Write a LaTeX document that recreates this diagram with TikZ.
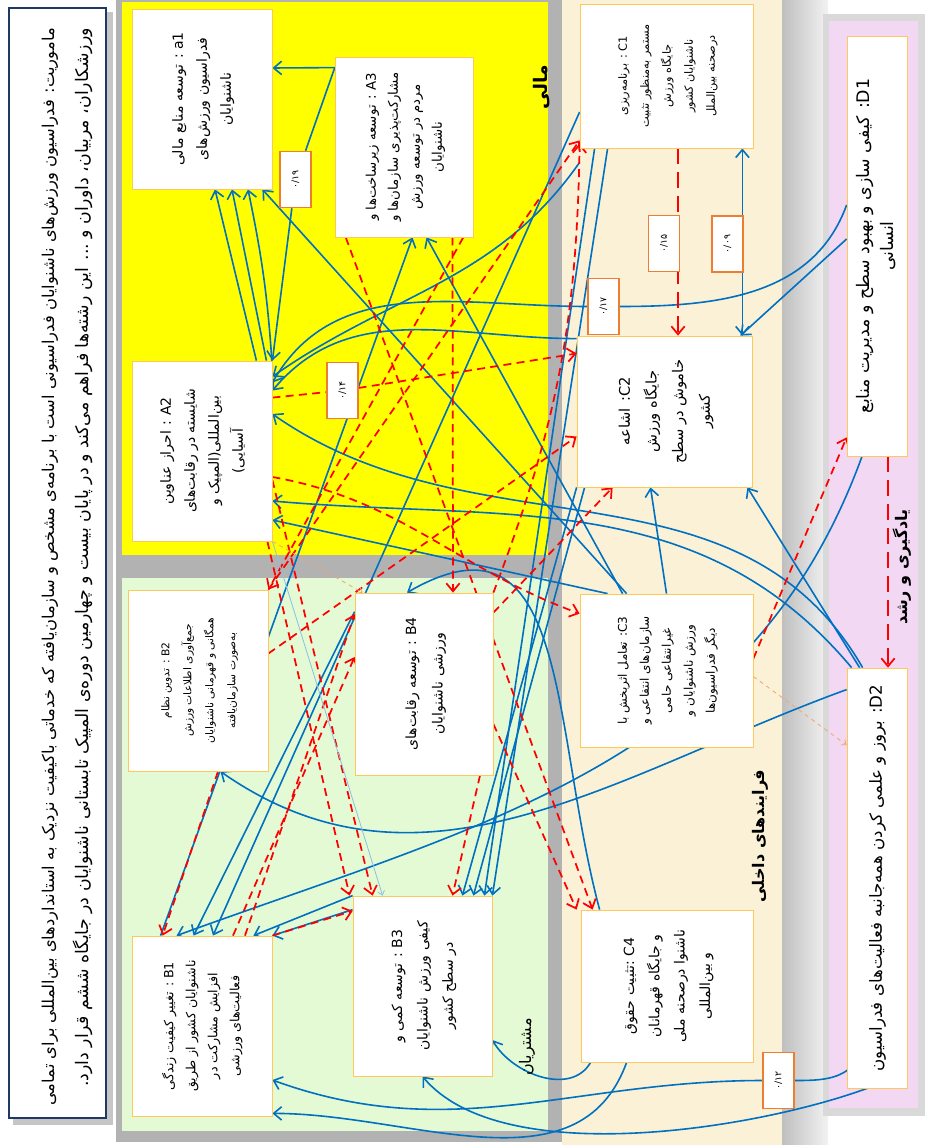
\documentclass[tikz,border=0pt]{standalone}
\usepackage{graphicx}
\usepackage{fontspec}
\usepackage{xcolor}
\usepackage{tikz}
\usetikzlibrary{arrows.meta,calc}
\TeXXeTstate=1
\newfontfamily\fa[Script=Arabic]{DejaVu Sans}
\newcommand{\rtxt}[1]{\beginR#1\endR}
\newcommand{\ltxt}[1]{\beginL#1\endL}
\newcommand{\zw}{^^^^200c}
\newcommand{\vt}[1]{\rotatebox{90}{\begin{tabular}{@{}c@{}}#1\end{tabular}}}

\definecolor{finyellow}{RGB}{255,255,0}
\definecolor{custgreen}{RGB}{228,250,212}
\definecolor{procbeige}{RGB}{250,241,214}
\definecolor{learnpink}{RGB}{243,216,243}
\definecolor{linkblue}{RGB}{0,112,192}
\definecolor{linkred}{RGB}{255,0,0}
\definecolor{goalrim}{RGB}{255,200,90}
\definecolor{weightrim}{RGB}{237,125,49}
\definecolor{missionrim}{RGB}{31,56,100}

\pgfdeclarelayer{back}
\pgfdeclarelayer{links}
\pgfsetlayers{back,links,main}

\tikzset{
  goal/.style={draw=goalrim, line width=0.6pt, fill=white, inner sep=2pt,
    minimum width=105pt, minimum height=135pt, font=\fa\fontsize{10.5}{18}\selectfont},
  weight/.style={draw=weightrim, line width=1.1pt, fill=white, inner sep=0pt,
    minimum width=23pt, minimum height=42pt, font=\fa\fontsize{7}{8}\selectfont},
  solidlink/.style={draw=linkblue, line width=1.2pt, -{Straight Barb[length=6pt,width=10pt]}},
  dashlink/.style={draw=linkred, line width=1.3pt, dash pattern=on 6pt off 4pt,
    -{Straight Barb[length=6pt,width=10pt]}},
  faintlink/.style={line width=0.6pt, -{Straight Barb[length=3pt,width=5pt]}},
  bandlabel/.style={rotate=90, inner sep=0pt, font=\fa\bfseries\fontsize{12}{14}\selectfont},
}

\begin{document}
\begin{tikzpicture}[x=0.75pt,y=-0.75pt]
\useasboundingbox (0,0) rectangle (929,1145);

\begin{pgfonlayer}{back}
  \fill[white] (0,0) rectangle (929,1145);
  \fill[gray!45] (13,12) rectangle (113,1125);
  \fill[gray!60] (116,0) rectangle (562,1142);
  \fill[finyellow] (122,2) rectangle (548,555);
  \fill[custgreen] (122,578) rectangle (548,1131);
  \shade[left color=gray!50, right color=gray!10] (782,0) rectangle (828,1145);
  \fill[procbeige] (562,0) rectangle (782,1145);
  \fill[gray!30] (823,14) rectangle (925,1116);
  \fill[learnpink] (829,21) rectangle (918,1108);
  \draw[missionrim, line width=1.4pt, fill=white] (9,8) rectangle (106,1118);
\end{pgfonlayer}

% mission
\node[inner sep=0pt, font=\fa\fontsize{10}{26}\selectfont]
  (mission) at (64.5,567) {\rotatebox{90}{\begin{tabular}{@{}r@{}}
  \resizebox{808pt}{!}{\rtxt{ماموریت: فدراسیون ورزش\zw های ناشنوایان فدراسیونی است با برنامه\zw ی مشخص و سازمان\zw یافته که خدماتی باکیفیت نزدیک به استانداردهای بین\zw المللی برای تمامی}}\\
  \resizebox{794pt}{!}{\rtxt{ورزشکاران، مربیان، داوران و ... این رشته\zw ها فراهم می\zw کند و در پایان بیست و چهارمین دوره\zw ی المپیک تابستانی ناشنوایان در جایگاه ششم قرار دارد.}}
  \end{tabular}}};

% band labels
\node[bandlabel, font=\fa\bfseries\fontsize{14}{16}\selectfont] (finlabel) at (542,87) {\rtxt{مالی}};
\node[bandlabel, font=\fa\fontsize{12}{14}\selectfont] (custlabel) at (527,1047) {\rtxt{مشتریان}};
\node[bandlabel] (proclabel) at (760,836) {\rtxt{فرایندهای داخلی}};
\node[bandlabel] (learnlabel) at (902,567) {\rtxt{یادگیری و رشد}};

% objectives
\node[goal] (a1) at (202,99) {\vt{\rtxt{\ltxt{a1} : توسعه منابع مالی}\\ \rtxt{فدراسیون ورزش\zw های}\\ \rtxt{ناشنوایان}}};
\node[goal, minimum width=104pt, font=\fa\fontsize{10}{16.5}\selectfont] (A3) at (404.5,147) {\vt{\rtxt{\ltxt{A3} : توسعه زیرساخت\zw ها و}\\ \rtxt{مشارکت\zw پذیری سازمان\zw ها و}\\ \rtxt{مردم در توسعه ورزش}\\ \rtxt{ناشنوایان}}};
\node[goal] (A2) at (202,451) {\vt{\rtxt{\ltxt{A2} : احراز عناوین}\\ \rtxt{شایسته در رقابت\zw های}\\ \rtxt{بین\zw المللی(المپیک و}\\ \rtxt{آسیایی)}}};
\node[goal, minimum width=129.75pt, minimum height=108pt, font=\fa\fontsize{8.5}{16.5}\selectfont] (C1) at (666.5,76) {\vt{\rtxt{\ltxt{C1} : برنامه\zw ریزی}\\ \rtxt{مستمر به\zw منظور تثبیت}\\ \rtxt{جایگاه ورزش}\\ \rtxt{ناشنوایان کشور}\\ \rtxt{درصحنه بین\zw الملل}}};
\node[goal, minimum width=131.25pt, minimum height=113.25pt, font=\fa\fontsize{11}{20}\selectfont] (C2) at (664.5,411.5) {\vt{\rtxt{\ltxt{C2}:  اشاعه}\\ \rtxt{جایگاه ورزش}\\ \rtxt{خاموش در سطح}\\ \rtxt{کشور}}};
\node[goal, minimum width=45pt, minimum height=315pt, font=\fa\fontsize{13}{18}\selectfont] (D1) at (877,246) {\vt{\rtxt{\ltxt{D1}: کیفی سازی و بهبود سطح و مدیریت منابع}\\ \rtxt{انسانی}}};
\node[goal, minimum height=135.75pt, font=\fa\fontsize{8}{16.5}\selectfont] (B2) at (198,680.5) {\vt{\rtxt{\ltxt{B2} : تدوین نظام}\\ \rtxt{جمع\zw آوری اطلاعات ورزش}\\ \rtxt{همگانی و قهرمانی ناشنوایان}\\ \rtxt{به\zw صورت سازمان\zw یافته}}};
\node[goal, minimum width=103.5pt, minimum height=136.5pt, font=\fa\fontsize{10.5}{20}\selectfont] (B4) at (424,684) {\vt{\rtxt{\ltxt{B4} : توسعه رقابت\zw های}\\ \rtxt{ورزشی ناشنوایان}}};
\node[goal, minimum width=129.75pt, minimum height=114.75pt, font=\fa\fontsize{9}{16.5}\selectfont] (C3) at (666.5,670.5) {\vt{\rtxt{\ltxt{C3}: تعامل اثربخش با}\\ \rtxt{سازمان\zw های انتفاعی و}\\ \rtxt{غیرانتفاعی حامی}\\ \rtxt{ورزش ناشنوایان و}\\ \rtxt{دیگر فدراسیون\zw ها}}};
\node[goal, font=\fa\fontsize{9.5}{16.5}\selectfont] (B1) at (202,1026) {\vt{\rtxt{\ltxt{B1} : تغییر کیفیت زندگی}\\ \rtxt{ناشنوایان کشور از طریق}\\ \rtxt{افزایش مشارکت در}\\ \rtxt{فعالیت\zw های ورزشی}}};
\node[goal, minimum width=104.25pt, font=\fa\fontsize{10.5}{19}\selectfont] (B3) at (422.5,986) {\vt{\rtxt{\ltxt{B3} : توسعه کمی و}\\ \rtxt{کیفی ورزش ناشنوایان}\\ \rtxt{در سطح کشور}}};
\node[goal, minimum width=129pt, minimum height=114pt, font=\fa\fontsize{10.5}{19}\selectfont] (C4) at (667,986) {\vt{\rtxt{\ltxt{C4} :تثبیت حقوق}\\ \rtxt{و جایگاه قهرمانان}\\ \rtxt{ناشنوا درصحنه ملی}\\ \rtxt{و بین\zw المللی}}};
\node[goal, minimum width=45pt, minimum height=315pt, font=\fa\fontsize{12.5}{18}\selectfont] (D2) at (877,878) {\vt{\rtxt{\ltxt{D2}: بروز و علمی کردن همه\zw جانبه فعالیت\zw های فدراسیون}}};

% weights
\node[weight] (v19) at (295.5,179.5) {\rotatebox{90}{۰/۱۹}};
\node[weight] (v14) at (342.5,390.5) {\rotatebox{90}{۰/۱۴}};
\node[weight] (v15) at (664,243.5) {\rotatebox{90}{۰/۱۵}};
\node[weight] (v09) at (727.5,244) {\rotatebox{90}{۰/۰۹}};
\node[weight] (v17) at (603.5,306.5) {\rotatebox{90}{۰/۱۷}};
\node[weight] (v12) at (778.5,1080.5) {\rotatebox{90}{۰/۱۲}};

\begin{pgfonlayer}{links}
  % solid links
  \draw[solidlink] ($(A3.north west)+(0,11)$) -- ($(a1.east)+(0,-31)$);
  \draw[solidlink] ($(A3.north west)+(0,11)$) -- (v19) -- (A2.north east);
  \draw[solidlink] ($(A2.north east)+(-16,0)$) -- ($(a1.south)+(13,0)$);
  \draw[solidlink] ($(A2.north east)+(-6,0)$) -- ($(a1.south)+(30,0)$);
  \draw[solidlink] ($(A2.north east)+(0,8)$) to[bend right=4] ($(a1.south)+(46,0)$);
  \draw[solidlink] ($(C3.north west)+(47,0)$) -- ($(a1.south east)+(-10,0)$);
  \draw[solidlink] ($(B1.north west)+(29,0)$) -- ($(A3.south)+(8,0)$);
  \draw[solidlink] ($(C3.north west)+(43,0)$) -- ($(A3.south)+(22,0)$);
  \draw[solidlink] ($(D1.west)+(0,-41)$) to[out=250,in=0] (v17) to[out=180,in=60] ($(A2.north east)+(0,22)$);
  \draw[solidlink] ($(C2.north west)+(0,3)$) to[out=180,in=50] ($(A2.north east)+(0,30)$);
  \draw[solidlink] ($(C1.south west)+(0,14)$) to[out=235,in=35] ($(A2.north east)+(0,16)$);
  \draw[solidlink] ($(D1.west)+(0,-7)$) -- ($(C2.north east)+(-12,0)$);
  \draw[solidlink, {Straight Barb[length=6pt,width=10pt]}-{Straight Barb[length=6pt,width=10pt]}]
    ($(C1.south east)+(-11,0)$) -- ($(C2.north east)+(-10,0)$);
  \draw[solidlink] (C3.north) -- ($(C2.south)+(-14,0)$);
  \draw[solidlink] ($(D2.north west)+(13,0)$) -- ($(C2.south east)+(-5,0)$);
  \draw[solidlink] ($(B4.north west)+(0,19)$) -- ($(B1.north west)+(62,0)$);
  \draw[solidlink] (B3.north west) -- ($(B1.north east)+(-19,0)$);
  \draw[solidlink] ($(B3.north west)+(0,14)$) -- (B1.north east);
  \draw[solidlink] ($(C1.west)+(0,36)$) -- ($(B1.north)+(11,0)$);
  \draw[solidlink] ($(D1.south)+(-15,0)$) to[out=250,in=20] ($(B1.north west)+(45,0)$);
  \draw[solidlink] ($(D2.north west)+(0,22)$) to[out=200,in=-35] ($(B2.south east)+(-48,0)$);
  \draw[solidlink] ($(C1.south west)+(15,0)$) -- ($(B3.north east)+(-8,0)$);
  \draw[solidlink] ($(C1.south west)+(28,0)$) -- (B3.north east);
  \draw[solidlink] ($(C2.south west)+(8,0)$) -- ($(B3.north east)+(-19,0)$);
  \draw[solidlink] (C2.south west) -- ($(B3.north east)+(-30,0)$);
  \draw[solidlink] ($(C4.north west)+(19,0)$) to[out=105,in=30,looseness=1.3] ($(B4.north)+(-17,0)$);
  \draw[solidlink] ($(D2.north west)+(5,0)$) to[out=130,in=-5] ($(A2.east)+(0,50)$);
  \draw[solidlink] ($(D2.north west)+(16,0)$) to[out=120,in=-35] ($(A2.east)+(0,-37)$);
  \draw[solidlink] ($(C3.north west)+(28,0)$) -- ($(A2.east)+(0,69)$);
  \draw[solidlink] ($(C4.south west)+(46,0)$) to[out=250,in=0] ($(B1.south east)+(0,-3)$);
  \draw[solidlink] ($(D2.south west)+(13,-32)$) to[out=240,in=0] (v12) to[out=180,in=-20] ($(B1.east)+(0,54)$);
  \draw[solidlink] ($(D2.south)+(-10,0)$) to[out=200,in=-50,looseness=0.7] (B3.south);
  \draw[solidlink] ($(C4.south west)+(10,0)$) to[out=240,in=-60] ($(B3.east)+(0,54)$);
  % dashed links
  \draw[dashlink] ($(A2.north east)+(0,37)$) -- (v14) -- ($(C2.west)+(0,-58)$);
  \draw[dashlink] ($(A3.south)+(48,0)$) -- ($(B4.north)+(29,0)$);
  \draw[dashlink] ($(A3.south east)+(-11,0)$) -- (B2.north east);
  \draw[dashlink] ($(B2.south)+(20,0)$) -- ($(B1.north west)+(31,0)$);
  \draw[dashlink] (B1.north east) -- ($(B3.west)+(0,-75)$);
  \draw[dashlink] ($(B1.north)+(31,0)$) -- ($(B4.west)+(0,-27)$);
  \draw[dashlink] ($(B1.north)+(43,0)$) -- ($(B4.west)+(0,-70)$);
  \draw[dashlink] ($(A2.east)+(0,29)$) -- ($(B3.north west)+(20,0)$);
  \draw[dashlink] ($(A2.south east)+(-5,0)$) -- ($(B3.north west)+(-3,0)$);
  \draw[dashlink] ($(B4.south)+(56,0)$) -- ($(B3.north)+(30,0)$);
  \draw[dashlink] ($(A3.south west)+(11,0)$) -- ($(C4.north west)+(12,0)$);
  \draw[dashlink] ($(B4.east)+(0,40)$) -- ($(C4.north west)+(-4,0)$);
  \draw[dashlink] ($(C3.east)+(0,-12)$) -- ($(D1.south west)+(0,-19)$);
  \draw[dashlink, dash pattern=on 12pt off 6pt] ($(D1.south)+(11,0)$) -- ($(D2.north)+(11,0)$);
  \draw[dashlink, dash pattern=on 12pt off 6pt] ($(C1.south)+(11.5,0)$) -- ($(C2.north)+(13.5,0)$);
  \draw[dashlink] (B4.north east) to[bend right=10] ($(C1.south west)+(0,-5)$);
  \draw[dashlink] (B2.north east) -- ($(C1.south west)+(0,-8)$);
  \draw[dashlink] ($(B2.east)+(0,-27)$) -- ($(C2.west)+(0,25)$);
  \draw[dashlink] ($(B4.north east)+(0,20)$) -- ($(C2.south west)+(36,0)$);
  \draw[dashlink] ($(A2.east)+(0,26)$) to[out=-10,in=160] ($(C3.north west)+(0,20)$);
  % faint links
  \draw[faintlink, draw=linkblue!45] (A2.south east) -- ($(B3.north west)+(30,0)$);
  \draw[faintlink, draw=weightrim!70, dashed] (A2.south east) -- ($(B4.north west)+(8,0)$);
  \draw[faintlink, draw=weightrim!70, dashed] ($(C3.east)+(0,6)$) -- ($(D2.west)+(0,-133)$);
\end{pgfonlayer}
\end{tikzpicture}
\end{document}
